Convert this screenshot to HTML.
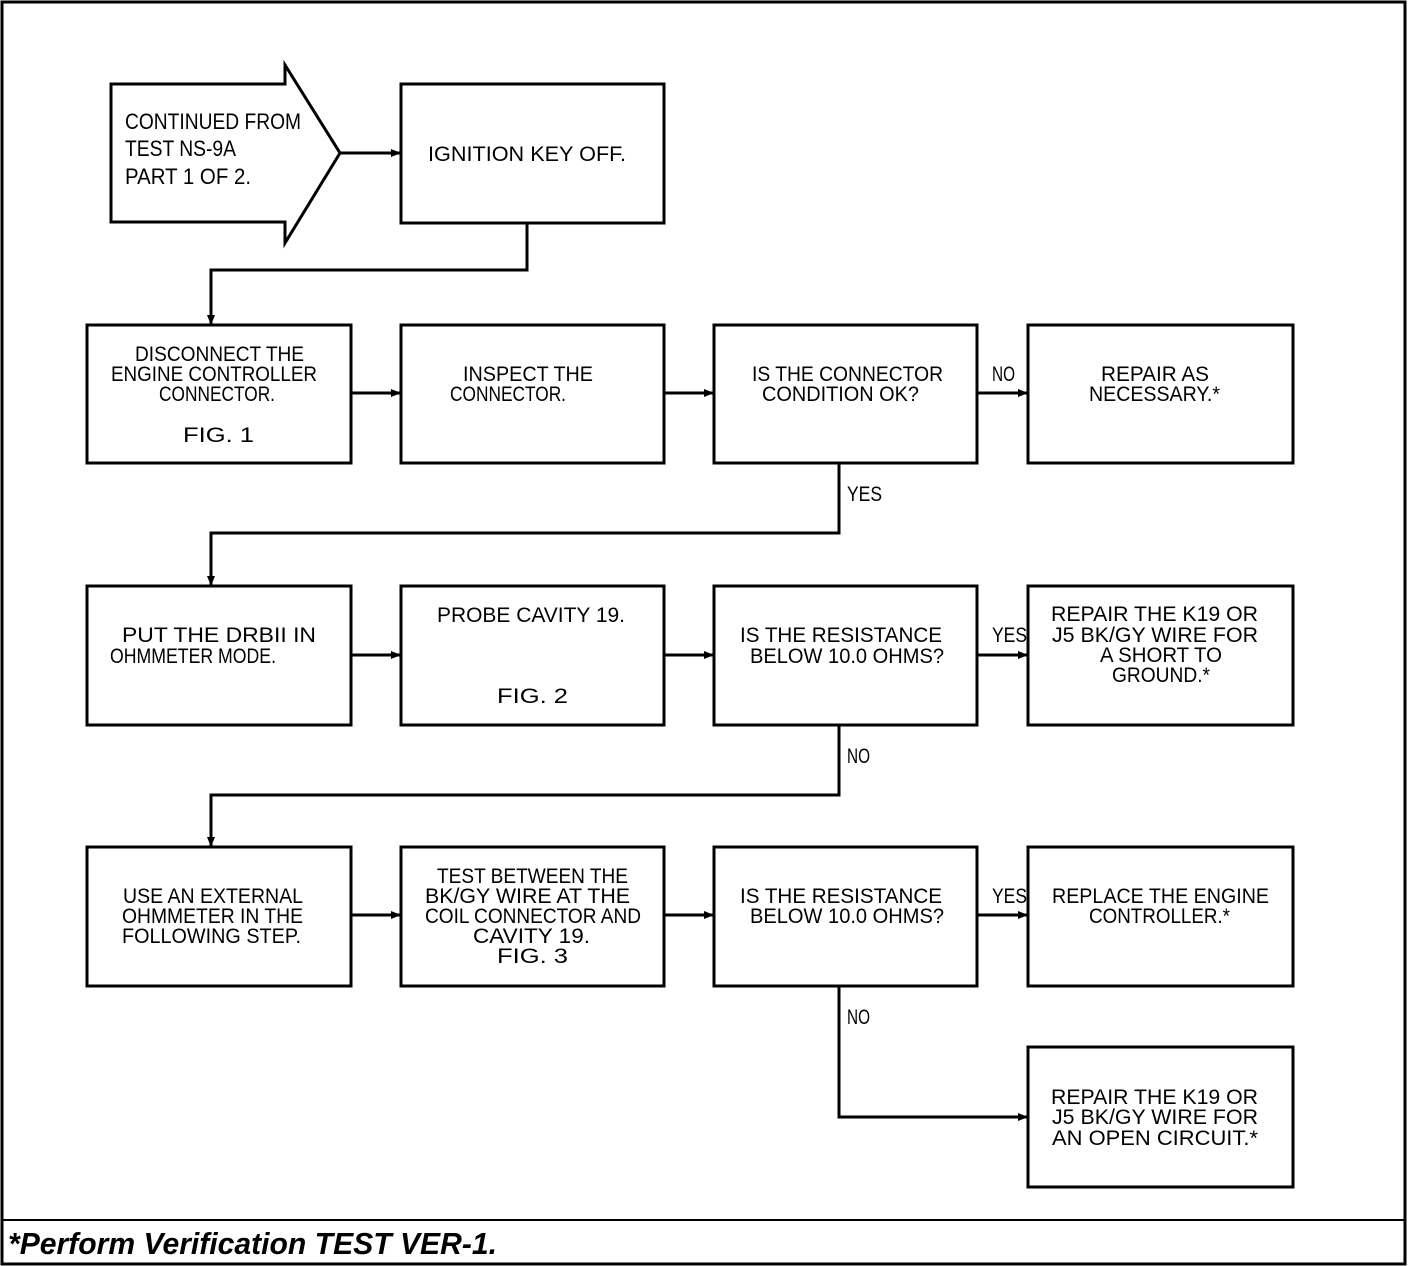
<!DOCTYPE html>
<html><head><meta charset="utf-8"><style>
html,body{margin:0;padding:0;background:#fff;}
svg{display:block;}
text{font-family:"Liberation Sans",sans-serif;fill:#000;}
.t{font-size:21px;}
.a{font-size:22px;}
</style></head><body>
<svg width="1408" height="1266" viewBox="0 0 1408 1266" xmlns="http://www.w3.org/2000/svg">
<defs><marker id="ar" markerWidth="10" markerHeight="10" refX="9" refY="5" orient="auto" markerUnits="userSpaceOnUse"><path d="M0,1 L10,5 L0,9 z" fill="#000"/></marker></defs>
<rect x="2" y="2" width="1403" height="1262" fill="none" stroke="#000" stroke-width="3"/>
<line x1="2" y1="1220" x2="1405" y2="1220" stroke="#000" stroke-width="2"/>
<g fill="none" stroke="#000" stroke-width="3">
<path d="M111,84 L285,84 L285,65 L340,153 L285,243 L285,222 L111,222 Z"/>
<rect x="401" y="84" width="263" height="139"/>
<rect x="87" y="325" width="264" height="138"/>
<rect x="401" y="325" width="263" height="138"/>
<rect x="714" y="325" width="263" height="138"/>
<rect x="1028" y="325" width="265" height="138"/>
<rect x="87" y="586" width="264" height="139"/>
<rect x="401" y="586" width="263" height="139"/>
<rect x="714" y="586" width="263" height="139"/>
<rect x="1028" y="586" width="265" height="139"/>
<rect x="87" y="847" width="264" height="139"/>
<rect x="401" y="847" width="263" height="139"/>
<rect x="714" y="847" width="263" height="139"/>
<rect x="1028" y="847" width="265" height="139"/>
<rect x="1028" y="1047" width="265" height="140"/>
</g>
<g fill="none" stroke="#000" stroke-width="3" marker-end="url(#ar)">
<path d="M340,153 L400,153"/>
<path d="M527,223 L527,270 L211,270 L211,324"/>
<path d="M351,393 L400,393"/>
<path d="M664,393 L713,393"/>
<path d="M977,393 L1027,393"/>
<path d="M839,463 L839,533 L211,533 L211,585"/>
<path d="M351,655 L400,655"/>
<path d="M664,655 L713,655"/>
<path d="M977,655 L1027,655"/>
<path d="M839,725 L839,795 L211,795 L211,846"/>
<path d="M351,915 L400,915"/>
<path d="M664,915 L713,915"/>
<path d="M977,915 L1027,915"/>
<path d="M839,986 L839,1117 L1027,1117"/>
</g>
<g class="a">
<text x="125" y="129" textLength="176" lengthAdjust="spacingAndGlyphs">CONTINUED FROM</text>
<text x="125" y="156" textLength="111" lengthAdjust="spacingAndGlyphs">TEST NS-9A</text>
<text x="125" y="184" textLength="126" lengthAdjust="spacingAndGlyphs">PART 1 OF 2.</text>
</g>
<g class="t">
<text x="428" y="161" textLength="198" lengthAdjust="spacingAndGlyphs">IGNITION KEY OFF.</text>
<text x="135" y="361" textLength="169" lengthAdjust="spacingAndGlyphs">DISCONNECT THE</text>
<text x="111" y="381" textLength="206" lengthAdjust="spacingAndGlyphs">ENGINE CONTROLLER</text>
<text x="159" y="401" textLength="116" lengthAdjust="spacingAndGlyphs">CONNECTOR.</text>
<text x="183" y="442" textLength="71" lengthAdjust="spacingAndGlyphs">FIG. 1</text>
<text x="463" y="381" textLength="130" lengthAdjust="spacingAndGlyphs">INSPECT THE</text>
<text x="450" y="401" textLength="116" lengthAdjust="spacingAndGlyphs">CONNECTOR.</text>
<text x="752" y="381" textLength="191" lengthAdjust="spacingAndGlyphs">IS THE CONNECTOR</text>
<text x="762" y="401" textLength="157" lengthAdjust="spacingAndGlyphs">CONDITION OK?</text>
<text x="1101" y="381" textLength="108" lengthAdjust="spacingAndGlyphs">REPAIR AS</text>
<text x="1089" y="401" textLength="131" lengthAdjust="spacingAndGlyphs">NECESSARY.*</text>
<text x="992" y="381" textLength="23" lengthAdjust="spacingAndGlyphs">NO</text>
<text x="847" y="501" textLength="35" lengthAdjust="spacingAndGlyphs">YES</text>
<text x="122" y="642" textLength="194" lengthAdjust="spacingAndGlyphs">PUT THE DRBII IN</text>
<text x="110" y="663" textLength="166" lengthAdjust="spacingAndGlyphs">OHMMETER MODE.</text>
<text x="437" y="622" textLength="188" lengthAdjust="spacingAndGlyphs">PROBE CAVITY 19.</text>
<text x="497" y="703" textLength="71" lengthAdjust="spacingAndGlyphs">FIG. 2</text>
<text x="740" y="642" textLength="202" lengthAdjust="spacingAndGlyphs">IS THE RESISTANCE</text>
<text x="750" y="663" textLength="194" lengthAdjust="spacingAndGlyphs">BELOW 10.0 OHMS?</text>
<text x="992" y="642" textLength="35" lengthAdjust="spacingAndGlyphs">YES</text>
<text x="1051" y="621" textLength="207" lengthAdjust="spacingAndGlyphs">REPAIR THE K19 OR</text>
<text x="1052" y="642" textLength="206" lengthAdjust="spacingAndGlyphs">J5 BK/GY WIRE FOR</text>
<text x="1100" y="662" textLength="122" lengthAdjust="spacingAndGlyphs">A SHORT TO</text>
<text x="1112" y="682" textLength="98" lengthAdjust="spacingAndGlyphs">GROUND.*</text>
<text x="847" y="763" textLength="23" lengthAdjust="spacingAndGlyphs">NO</text>
<text x="123" y="903" textLength="180" lengthAdjust="spacingAndGlyphs">USE AN EXTERNAL</text>
<text x="122" y="923" textLength="181" lengthAdjust="spacingAndGlyphs">OHMMETER IN THE</text>
<text x="122" y="943" textLength="179" lengthAdjust="spacingAndGlyphs">FOLLOWING STEP.</text>
<text x="437" y="883" textLength="191" lengthAdjust="spacingAndGlyphs">TEST BETWEEN THE</text>
<text x="425" y="903" textLength="205" lengthAdjust="spacingAndGlyphs">BK/GY WIRE AT THE</text>
<text x="425" y="923" textLength="216" lengthAdjust="spacingAndGlyphs">COIL CONNECTOR AND</text>
<text x="473" y="943" textLength="117" lengthAdjust="spacingAndGlyphs">CAVITY 19.</text>
<text x="497" y="963" textLength="71" lengthAdjust="spacingAndGlyphs">FIG. 3</text>
<text x="740" y="903" textLength="202" lengthAdjust="spacingAndGlyphs">IS THE RESISTANCE</text>
<text x="750" y="923" textLength="194" lengthAdjust="spacingAndGlyphs">BELOW 10.0 OHMS?</text>
<text x="992" y="903" textLength="35" lengthAdjust="spacingAndGlyphs">YES</text>
<text x="1052" y="903" textLength="217" lengthAdjust="spacingAndGlyphs">REPLACE THE ENGINE</text>
<text x="1089" y="923" textLength="141" lengthAdjust="spacingAndGlyphs">CONTROLLER.*</text>
<text x="847" y="1024" textLength="23" lengthAdjust="spacingAndGlyphs">NO</text>
<text x="1051" y="1104" textLength="207" lengthAdjust="spacingAndGlyphs">REPAIR THE K19 OR</text>
<text x="1052" y="1124" textLength="206" lengthAdjust="spacingAndGlyphs">J5 BK/GY WIRE FOR</text>
<text x="1052" y="1145" textLength="206" lengthAdjust="spacingAndGlyphs">AN OPEN CIRCUIT.*</text>
</g>
<text x="8" y="1254" font-size="31" font-weight="bold" font-style="italic" textLength="489" lengthAdjust="spacingAndGlyphs">*Perform Verification TEST VER-1.</text>
</svg>
</body></html>
